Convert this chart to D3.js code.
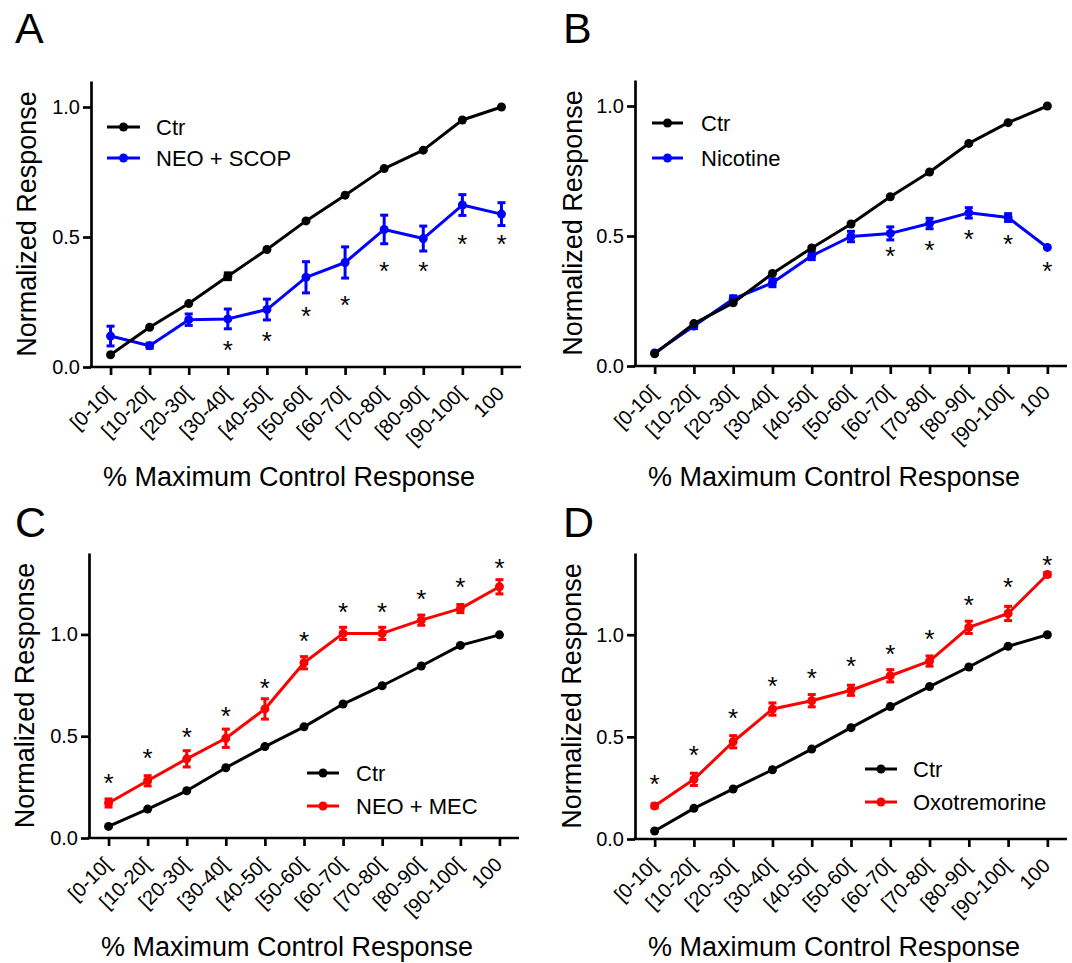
<!DOCTYPE html>
<html>
<head>
<meta charset="utf-8">
<script src="https://cdn.jsdelivr.net/npm/d3@7/dist/d3.min.js"></script>
<style>
  html, body { margin: 0; padding: 0; background: #fff; }
  svg { display: block; }
  text { font-family: "Liberation Sans", Arial, sans-serif; fill: #000; }
</style>
</head>
<body>
<svg id="chart" width="1072" height="963"></svg>
<script>
// ---------------- DATA ----------------
const categories = ["[0-10[", "[10-20[", "[20-30[", "[30-40[", "[40-50[", "[50-60[",
                    "[60-70[", "[70-80[", "[80-90[", "[90-100[", "100"];
const yTicksAB = [0, 0.5, 1.0];
const yTicksCD = [0, 0.5, 1.0];

// Panel A
const ctrA      = [0.047, 0.153, 0.244, 0.349, 0.452, 0.562, 0.661, 0.763, 0.834, 0.950, 1.000];
const ctrAErr   = [0.004, 0.004, 0.004, 0.013, 0.004, 0.004, 0.004, 0.004, 0.004, 0.004, 0.000];
const neoScop   = [0.119, 0.082, 0.182, 0.185, 0.221, 0.345, 0.402, 0.529, 0.494, 0.623, 0.588];
const neoScopErr= [0.038, 0.010, 0.022, 0.038, 0.040, 0.060, 0.060, 0.055, 0.048, 0.040, 0.044];
const starsA    = [null, null, null, 0.087, 0.120, 0.218, 0.260, 0.390, 0.390, 0.494, 0.494];

// Panel B
const ctrB      = [0.047, 0.163, 0.243, 0.356, 0.454, 0.546, 0.651, 0.746, 0.856, 0.936, 1.000];
const ctrBErr   = [0.004, 0.006, 0.006, 0.006, 0.006, 0.006, 0.006, 0.006, 0.006, 0.006, 0.000];
const nicotine  = [0.050, 0.154, 0.258, 0.320, 0.424, 0.498, 0.510, 0.548, 0.589, 0.571, 0.456];
const nicotineErr=[0.005, 0.010, 0.012, 0.015, 0.015, 0.020, 0.025, 0.020, 0.020, 0.015, 0.008];
const starsB    = [null, null, null, null, null, null, 0.443, 0.465, 0.510, 0.490, 0.385];

// Panel C
const ctrC      = [0.057, 0.142, 0.232, 0.345, 0.449, 0.546, 0.658, 0.748, 0.845, 0.946, 0.998];
const ctrCErr   = [0.004, 0.004, 0.004, 0.004, 0.004, 0.004, 0.004, 0.004, 0.004, 0.004, 0.000];
const neoMec    = [0.172, 0.281, 0.389, 0.490, 0.634, 0.861, 1.005, 1.005, 1.070, 1.127, 1.234];
const neoMecErr = [0.020, 0.025, 0.040, 0.045, 0.050, 0.030, 0.030, 0.030, 0.025, 0.020, 0.035];
const starsC    = [0.294, 0.417, 0.523, 0.626, 0.763, 0.993, 1.136, 1.136, 1.198, 1.258, 1.351];

// Panel D
const ctrD      = [0.039, 0.150, 0.245, 0.339, 0.440, 0.545, 0.648, 0.746, 0.842, 0.943, 1.000];
const ctrDErr   = [0.004, 0.004, 0.004, 0.004, 0.004, 0.004, 0.004, 0.004, 0.004, 0.004, 0.000];
const oxo       = [0.162, 0.292, 0.476, 0.636, 0.677, 0.728, 0.799, 0.871, 1.036, 1.104, 1.295];
const oxoErr    = [0.010, 0.030, 0.030, 0.030, 0.030, 0.025, 0.030, 0.025, 0.030, 0.035, 0.010];
const starsD    = [0.297, 0.436, 0.618, 0.775, 0.814, 0.871, 0.933, 1.007, 1.170, 1.259, 1.365];

const panelLetters = ["A", "B", "C", "D"];
const seriesNames = [["Ctr", "NEO + SCOP"], ["Ctr", "Nicotine"], ["Ctr", "NEO + MEC"], ["Ctr", "Oxotremorine"]];
const yTitle = "Normalized Response";
const xTitle = "% Maximum Control Response";

// ---------------- LAYOUT ----------------
const BLUE = "#0000ff", RED = "#ff0000", BLACK = "#000";
const FONT = '"Liberation Sans", Arial, sans-serif';

const panels = [
  { letter: panelLetters[0], names: seriesNames[0], color: BLUE, yMax: 1.1, yTicks: yTicksAB,
    ctr: ctrA, ctrErr: ctrAErr, trt: neoScop, trtErr: neoScopErr, stars: starsA,
    x0: 91, x1: 521, y0: 367, yTop: 81, letterPos: [15, 43], yTitleX: 27, xTitleX: 289, xTitleY: 486,
    legend: { lx1: 107, lx2: 140, tx: 156, ys: [127, 158] } },
  { letter: panelLetters[1], names: seriesNames[1], color: BLUE, yMax: 1.1, yTicks: yTicksAB,
    ctr: ctrB, ctrErr: ctrBErr, trt: nicotine, trtErr: nicotineErr, stars: starsB,
    x0: 635, x1: 1067, y0: 366, yTop: 80, letterPos: [563, 43], yTitleX: 573, xTitleX: 834, xTitleY: 486,
    legend: { lx1: 652, lx2: 683, tx: 701, ys: [123, 158] } },
  { letter: panelLetters[2], names: seriesNames[2], color: RED, yMax: 1.4, yTicks: yTicksCD,
    ctr: ctrC, ctrErr: ctrCErr, trt: neoMec, trtErr: neoMecErr, stars: starsC,
    x0: 89, x1: 519, y0: 838, yTop: 553, letterPos: [15, 537], yTitleX: 25, xTitleX: 287, xTitleY: 956,
    legend: { lx1: 307, lx2: 339, tx: 356, ys: [773, 806] } },
  { letter: panelLetters[3], names: seriesNames[3], color: RED, yMax: 1.4, yTicks: yTicksCD,
    ctr: ctrD, ctrErr: ctrDErr, trt: oxo, trtErr: oxoErr, stars: starsD,
    x0: 635, x1: 1067, y0: 839, yTop: 553, letterPos: [563, 537], yTitleX: 572, xTitleX: 834, xTitleY: 956,
    legend: { lx1: 865, lx2: 897, tx: 913, ys: [769, 802] } }
];

const svg = d3.select("#chart");

panels.forEach(p => {
  const g = svg.append("g");
  const x = d3.scalePoint().domain(categories).range([p.x0, p.x1]).padding(0.5);
  const y = d3.scaleLinear().domain([0, p.yMax]).range([p.y0, p.yTop]);

  // Axes
  const yAxis = d3.axisLeft(y).tickValues(p.yTicks).tickFormat(d3.format(".1f"))
    .tickSize(8).tickPadding(3).tickSizeOuter(0);
  const xAxis = d3.axisBottom(x).tickSize(8).tickSizeOuter(0).tickFormat("");

  const ya = g.append("g").attr("transform", `translate(${p.x0},0)`).call(yAxis);
  ya.select(".domain").attr("stroke", BLACK).attr("stroke-width", 2.7);
  ya.selectAll(".tick line").attr("stroke", BLACK).attr("stroke-width", 2.7);
  ya.selectAll(".tick text").style("font-family", FONT).style("font-size", "20px").attr("fill", BLACK);

  const xa = g.append("g").attr("transform", `translate(0,${p.y0})`).call(xAxis);
  xa.select(".domain").attr("stroke", BLACK).attr("stroke-width", 2.7)
    .attr("d", `M${p.x0 - 1.35},0H${p.x1}`);
  xa.selectAll(".tick line").attr("stroke", BLACK).attr("stroke-width", 2.7);

  // rotated x tick labels
  g.selectAll(".xlab").data(categories).enter().append("text")
    .attr("class", "xlab")
    .attr("transform", d => `translate(${x(d) - 1},${p.y0 + 23}) rotate(-45)`)
    .attr("text-anchor", "end")
    .attr("dy", "0.35em")
    .style("font-family", FONT).style("font-size", "20px")
    .text(d => d);

  // Titles
  g.append("text")
    .attr("transform", `translate(${p.yTitleX},${(p.y0 + p.yTop) / 2}) rotate(-90)`)
    .attr("text-anchor", "middle").attr("dy", "0.35em")
    .style("font-family", FONT).style("font-size", "27px")
    .text(yTitle);
  g.append("text")
    .attr("x", p.xTitleX).attr("y", p.xTitleY)
    .attr("text-anchor", "middle")
    .style("font-family", FONT).style("font-size", "27px")
    .text(xTitle);
  g.append("text")
    .attr("x", p.letterPos[0]).attr("y", p.letterPos[1])
    .style("font-family", FONT).style("font-size", "43px")
    .text(p.letter);

  const line = d3.line().x(d => x(d.c)).y(d => y(d.v));

  function drawSeries(vals, errs, color) {
    const pts = vals.map((v, i) => ({ c: categories[i], v: v, e: errs[i] }));
    const s = g.append("g");
    s.append("path").datum(pts).attr("d", line)
      .attr("fill", "none").attr("stroke", color).attr("stroke-width", 3).attr("stroke-linejoin", "round");
    s.selectAll(".eb").data(pts).enter().append("line").attr("class", "eb")
      .attr("x1", d => x(d.c)).attr("x2", d => x(d.c))
      .attr("y1", d => y(d.v - d.e)).attr("y2", d => y(d.v + d.e))
      .attr("stroke", color).attr("stroke-width", 3);
    const capped = pts.filter(d => d.e > 0.008);
    [-1, 1].forEach(sgn => {
      s.selectAll(".cap" + (sgn + 1)).data(capped).enter().append("line").attr("class", "cap" + (sgn + 1))
        .attr("x1", d => x(d.c) - 4).attr("x2", d => x(d.c) + 4)
        .attr("y1", d => y(d.v + sgn * d.e)).attr("y2", d => y(d.v + sgn * d.e))
        .attr("stroke", color).attr("stroke-width", 3);
    });
    s.selectAll("circle").data(pts).enter().append("circle")
      .attr("cx", d => x(d.c)).attr("cy", d => y(d.v))
      .attr("r", 4.5).attr("fill", color);
  }
  drawSeries(p.trt, p.trtErr, p.color);
  drawSeries(p.ctr, p.ctrErr, BLACK);

  // significance stars
  const starPts = p.stars.map((v, i) => ({ c: categories[i], v: v })).filter(d => d.v !== null);
  g.selectAll(".star").data(starPts).enter().append("text").attr("class", "star")
    .attr("x", d => x(d.c)).attr("y", d => y(d.v))
    .attr("dy", "0.55em")
    .attr("text-anchor", "middle")
    .style("font-family", FONT).style("font-size", "26px")
    .text("*");

  // Legend
  const L = p.legend;
  [BLACK, p.color].forEach((c, k) => {
    const ly = L.ys[k];
    g.append("line").attr("x1", L.lx1).attr("x2", L.lx2).attr("y1", ly).attr("y2", ly)
      .attr("stroke", c).attr("stroke-width", 3);
    g.append("circle").attr("cx", (L.lx1 + L.lx2) / 2).attr("cy", ly).attr("r", 4.5).attr("fill", c);
    g.append("text").attr("x", L.tx).attr("y", ly).attr("dy", "0.35em")
      .style("font-family", FONT).style("font-size", "22px")
      .text(p.names[k]);
  });
});
</script>
</body>
</html>
